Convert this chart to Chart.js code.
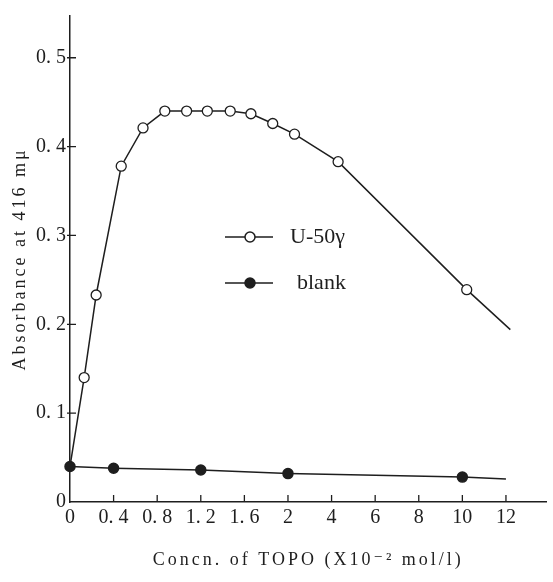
<!DOCTYPE html>
<html>
<head>
<meta charset="utf-8">
<script src="https://cdn.jsdelivr.net/npm/chart.js@4.4.1/dist/chart.umd.min.js"></script>
<style>
  html, body { margin: 0; background: #fff; }
</style>
</head>
<body>
<canvas id="absChart" width="553" height="582"></canvas>
<script>
// x axis is broken: 0-2 in steps of 0.4, then 2-12 in steps of 2
const tickConc = [0, 0.4, 0.8, 1.2, 1.6, 2, 4, 6, 8, 10, 12];
const tickLabels = ['0', '0. 4', '0. 8', '1. 2', '1. 6', '2', '4', '6', '8', '10', '12'];
const yTicks = [0, 0.1, 0.2, 0.3, 0.4, 0.5];

const uConc = [0, 0.13, 0.24, 0.47, 0.67, 0.87, 1.07, 1.26, 1.47, 1.66, 1.86, 2.3, 4.3, 10.2, 12.2];
const uAbs = [0.04, 0.14, 0.233, 0.378, 0.421, 0.44, 0.44, 0.44, 0.44, 0.437, 0.426, 0.414, 0.383, 0.239, 0.194];

const blankConc = [0, 0.4, 1.2, 2, 10, 12];
const blankAbs = [0.04, 0.038, 0.036, 0.032, 0.028, 0.026];

const serif = "'Liberation Serif', 'DejaVu Serif', serif";
const ink = '#1e1e1e';

// concentration -> position on the broken axis (one step per tick)
function axisPos(c) {
    return c <= 2 ? c / 0.4 : 5 + (c - 2) / 2;
}

function toPoints(xs, ys) {
    return xs.map(function(c, i) { return { x: axisPos(c), y: ys[i] }; });
}

// ticks drawn inside the frame; titles get wide letter spacing, tick labels none
const frameTicks = {
    id: 'frameTicks',
    beforeDraw: function(chart) {
        chart.ctx.letterSpacing = '3px';
    },
    afterDatasetsDraw: function(chart) {
        const ctx = chart.ctx;
        const xs = chart.scales.x, ys = chart.scales.y;
        const area = chart.chartArea;
        ctx.letterSpacing = '0px';
        ctx.save();
        ctx.strokeStyle = ink;
        ctx.lineWidth = 1.3;
        ctx.beginPath();
        tickConc.forEach(function(c, i) {
            if (i === 0) return;
            const px = xs.getPixelForValue(axisPos(c));
            ctx.moveTo(px, area.bottom);
            ctx.lineTo(px, area.bottom - 7);
        });
        yTicks.forEach(function(v) {
            if (v === 0) return;
            const py = ys.getPixelForValue(v);
            ctx.moveTo(area.left - 3, py);
            ctx.lineTo(area.left + 6, py);
        });
        ctx.stroke();
        ctx.restore();
    }
};

// legend sits inside the plot
const innerLegend = {
    id: 'innerLegend',
    afterDraw: function(chart) {
        const ctx = chart.ctx;
        const rows = [
            { label: 'U-50γ', y: 237, fill: '#fff', textX: 290 },
            { label: 'blank', y: 283, fill: ink, textX: 297 }
        ];
        ctx.save();
        ctx.letterSpacing = '0px';
        ctx.strokeStyle = ink;
        ctx.lineWidth = 1.5;
        ctx.font = '22px ' + serif;
        ctx.textBaseline = 'middle';
        rows.forEach(function(r) {
            ctx.beginPath();
            ctx.moveTo(225, r.y);
            ctx.lineTo(273, r.y);
            ctx.stroke();
            ctx.beginPath();
            ctx.arc(250, r.y, 5, 0, Math.PI * 2);
            ctx.fillStyle = r.fill;
            ctx.fill();
            ctx.stroke();
            ctx.fillStyle = ink;
            ctx.fillText(r.label, r.textX, r.y);
        });
        ctx.restore();
    }
};

const ctx = document.getElementById('absChart').getContext('2d');
const chart = new Chart(ctx, {
    type: 'line',
    data: {
        datasets: [{
            label: 'blank',
            data: toPoints(blankConc, blankAbs),
            borderColor: ink,
            borderWidth: 1.5,
            pointBackgroundColor: ink,
            pointBorderColor: ink,
            pointRadius: [5, 5, 5, 5, 5, 0],
            clip: false
        }, {
            label: 'U-50γ',
            data: toPoints(uConc, uAbs),
            borderColor: ink,
            borderWidth: 1.5,
            pointBackgroundColor: '#fff',
            pointBorderColor: ink,
            pointBorderWidth: 1.3,
            pointRadius: [0, 5, 5, 5, 5, 5, 5, 5, 5, 5, 5, 5, 5, 5, 0],
            clip: false
        }]
    },
    options: {
        responsive: false,
        animation: false,
        layout: { padding: { top: 10, right: 0 } },
        plugins: {
            legend: { display: false },
            tooltip: { enabled: false }
        },
        scales: {
            x: {
                type: 'linear',
                min: 0,
                max: 10.93,
                afterFit: function(scale) { scale.height = 80; },
                afterBuildTicks: function(scale) {
                    scale.ticks = tickConc.map(function(c) { return { value: axisPos(c) }; });
                },
                grid: { display: false, drawTicks: false },
                border: { color: ink, width: 1.5 },
                ticks: {
                    z: 1,
                    padding: 4,
                    color: ink,
                    maxRotation: 0,
                    font: { family: serif, size: 20 },
                    callback: function(value, index) { return tickLabels[index]; }
                },
                title: {
                    display: true,
                    text: 'Concn. of TOPO (X10⁻² mol/l)',
                    color: ink,
                    font: { family: serif, size: 18 },
                    padding: { top: 0, bottom: 11 }
                }
            },
            y: {
                min: 0,
                max: 0.547,
                afterFit: function(scale) { scale.width = 70; },
                afterBuildTicks: function(scale) {
                    scale.ticks = yTicks.map(function(v) { return { value: v }; });
                },
                grid: { display: false, drawTicks: false },
                border: { color: ink, width: 1.5 },
                ticks: {
                    z: 1,
                    padding: 4,
                    color: ink,
                    font: { family: serif, size: 20 },
                    callback: function(value) {
                        return value === 0 ? '0' : value.toFixed(1).replace('.', '. ');
                    }
                },
                title: {
                    display: true,
                    text: 'Absorbance at 416 mμ',
                    color: ink,
                    font: { family: serif, size: 18 },
                    padding: { top: 9, bottom: 0 }
                }
            }
        }
    },
    plugins: [frameTicks, innerLegend]
});
</script>
</body>
</html>
